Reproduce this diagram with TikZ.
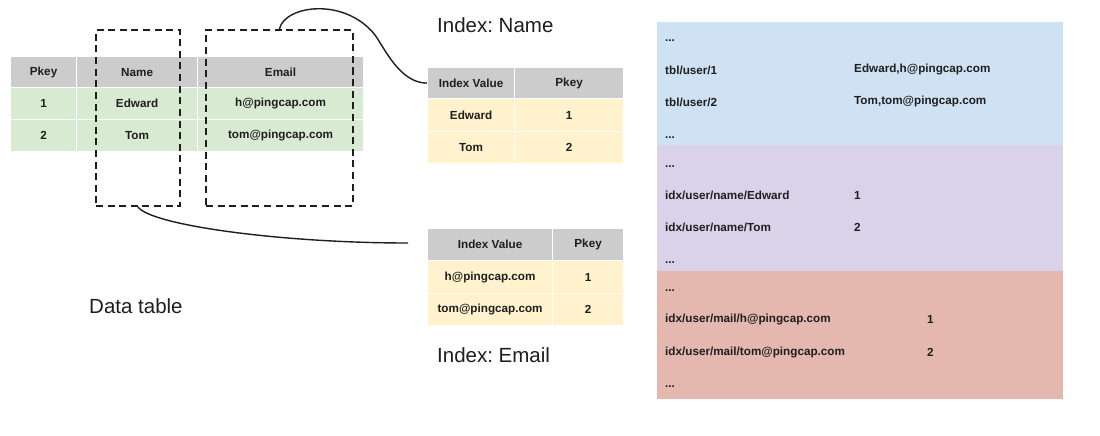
\documentclass[tikz,border=0pt]{standalone}
\usepackage{fontspec}
\setmainfont{Liberation Sans}
\definecolor{hdr}{HTML}{CCCCCC}
\definecolor{grn}{HTML}{D9EAD3}
\definecolor{ylw}{HTML}{FFF2CC}
\definecolor{kvblue}{HTML}{CFE2F3}
\definecolor{kvpurple}{HTML}{D9D2E9}
\definecolor{kvred}{HTML}{E4B8AE}
\definecolor{txt}{HTML}{1E1E1E}
\frenchspacing
\begin{document}
\begin{tikzpicture}[x=1pt,y=-1pt,
  cell/.style={draw=white,line width=1.2pt,inner sep=0pt,anchor=north west,
    text=txt,font=\fontsize{11.7}{14}\selectfont\bfseries},
  band/.style={inner sep=0pt,anchor=north west,draw=none},
  kv/.style={inner sep=0pt,anchor=west,text=txt,font=\fontsize{11.7}{14}\selectfont\bfseries},
  dots/.style={inner sep=0pt,anchor=base west,text=txt,font=\fontsize{11.7}{14}\selectfont\bfseries},
  title/.style={inner sep=0pt,anchor=base west,text=txt,font=\fontsize{20.5}{24}\selectfont},
  dashbox/.style={draw=txt,line width=1.8pt,dash pattern=on 7pt off 4.6pt,
    inner sep=0pt,anchor=north west},
  conn/.style={draw=txt,line width=1.4pt}]
\useasboundingbox (0,0) rectangle (1100,436);
\fill[white] (0,0) rectangle (1100,436);

% ---------- Data table ----------
\node[cell,fill=hdr,minimum width=66pt,minimum height=31pt] (dPk) at (10,56) {Pkey};
\node[cell,fill=hdr,minimum width=121pt,minimum height=31pt] (dNm) at (76,56) {Name};
\node[cell,fill=hdr,minimum width=166pt,minimum height=31pt] (dEm) at (197,56) {Email};
\node[cell,fill=grn,minimum width=66pt,minimum height=32pt] (d1a) at (10,87) {1};
\node[cell,fill=grn,minimum width=121pt,minimum height=32pt] (d1b) at (76,87) {Edward};
\node[cell,fill=grn,minimum width=166pt,minimum height=32pt] (d1c) at (197,87) {h@pingcap.com};
\node[cell,fill=grn,minimum width=66pt,minimum height=32pt] (d2a) at (10,119) {2};
\node[cell,fill=grn,minimum width=121pt,minimum height=32pt] (d2b) at (76,119) {Tom};
\node[cell,fill=grn,minimum width=166pt,minimum height=32pt] (d2c) at (197,119) {tom@pingcap.com};

% dashed column selections
\node[dashbox,minimum width=84pt,minimum height=176pt] (dn) at (95,29) {};
\node[dashbox,minimum width=147pt,minimum height=176pt] (de) at (205,29) {};

\node[title] (ldata) at (89,313) {Data table};

% ---------- Index: Name ----------
\node[title] (lname) at (437,33) {Index: Name};
\node[cell,fill=hdr,minimum width=87pt,minimum height=31pt] (inHv) at (427,67) {Index Value};
\node[cell,fill=hdr,minimum width=109pt,minimum height=31pt] (inHp) at (514,67) {Pkey};
\node[cell,fill=ylw,minimum width=87pt,minimum height=33pt] (in1a) at (427,98) {Edward};
\node[cell,fill=ylw,minimum width=109pt,minimum height=33pt] (in1b) at (514,98) {1};
\node[cell,fill=ylw,minimum width=87pt,minimum height=32pt] (in2a) at (427,131) {Tom};
\node[cell,fill=ylw,minimum width=109pt,minimum height=32pt] (in2b) at (514,131) {2};

% ---------- Index: Email ----------
\node[cell,fill=hdr,minimum width=125pt,minimum height=32pt] (ieHv) at (427,228) {Index Value};
\node[cell,fill=hdr,minimum width=71pt,minimum height=32pt] (ieHp) at (552,228) {Pkey};
\node[cell,fill=ylw,minimum width=125pt,minimum height=33pt] (ie1a) at (427,260) {h@pingcap.com};
\node[cell,fill=ylw,minimum width=71pt,minimum height=33pt] (ie1b) at (552,260) {1};
\node[cell,fill=ylw,minimum width=125pt,minimum height=32pt] (ie2a) at (427,293) {tom@pingcap.com};
\node[cell,fill=ylw,minimum width=71pt,minimum height=32pt] (ie2b) at (552,293) {2};
\node[title] (lemail) at (437,362) {Index: Email};

% ---------- connectors ----------
\coordinate (c2end) at (408,243);
\draw[conn] (de.north) .. controls (285,5) and (345,-3) .. (375,35)
  .. controls (385,49) and (400,83) .. (inHv.west);
\draw[conn] (dn.south) .. controls (150,225) and (280,243) .. (c2end);

% ---------- KV store ----------
\node[band,fill=kvblue,minimum width=406pt,minimum height=123pt] (kb) at (657,22) {};
\node[band,fill=kvpurple,minimum width=406pt,minimum height=126pt] (kp) at (657,145) {};
\node[band,fill=kvred,minimum width=406pt,minimum height=128pt] (kr) at (657,271) {};

\node[dots] (b0) at (665,42) {...};
\node[kv] (b1k) at (665,70) {tbl/user/1};
\node[kv] (b1v) at (854,70) {Edward,h@pingcap.com};
\node[kv] (b2k) at (665,102) {tbl/user/2};
\node[kv] (b2v) at (854,102) {Tom,tom@pingcap.com};
\node[dots] (b3) at (665,138) {...};

\node[dots] (p0) at (665,167) {...};
\node[kv] (p1k) at (665,195) {idx/user/name/Edward};
\node[kv] (p1v) at (854,195) {1};
\node[kv] (p2k) at (665,227) {idx/user/name/Tom};
\node[kv] (p2v) at (854,227) {2};
\node[dots] (p3) at (665,263) {...};

\node[dots] (r0) at (665,291) {...};
\node[kv] (r1k) at (665,319) {idx/user/mail/h@pingcap.com};
\node[kv] (r1v) at (927,319) {1};
\node[kv] (r2k) at (665,352) {idx/user/mail/tom@pingcap.com};
\node[kv] (r2v) at (927,352) {2};
\node[dots] (r3) at (665,387) {...};
\end{tikzpicture}
\end{document}
